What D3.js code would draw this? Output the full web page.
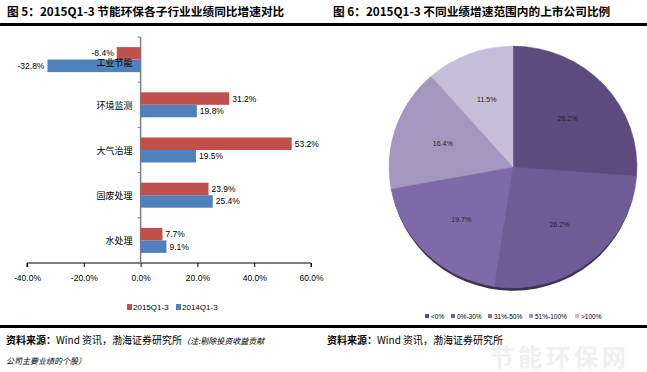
<!DOCTYPE html>
<html>
<head>
<meta charset="utf-8">
<script src="https://cdn.jsdelivr.net/npm/d3@7"></script>
<style>
  body { margin: 0; background: #fff; }
  svg { font-family: "Noto Sans CJK SC", "Noto Sans", sans-serif; }
</style>
</head>
<body>
<svg id="chart" width="647" height="372"></svg>
<script>
// bar chart data
var categories = ["工业节能", "环境监测", "大气治理", "固废处理", "水处理"];
var series2015 = [-8.4, 31.2, 53.2, 23.9, 7.7];
var series2014 = [-32.8, 19.8, 19.5, 25.4, 9.1];
var seriesNames = ["2015Q1-3", "2014Q1-3"];
var xTicks = [-40, -20, 0, 20, 40, 60];

// pie data
var pieLabels = ["<0%", "0%-30%", "31%-50%", "51%-100%", ">100%"];
var pieValues = [26.2, 26.2, 19.7, 16.4, 11.5];
var pieColors = ["#5e4a7d", "#705b96", "#7f69a8", "#a497bf", "#c6bed8"];

var barColors = ["#c0504d", "#4f81bd"];

var svg = d3.select("#chart");

// titles and rules
svg.append("text").attr("x", 7).attr("y", 16)
    .attr("font-size", 11.7).attr("font-weight", "bold")
    .text("图 5：2015Q1-3 节能环保各子行业业绩同比增速对比");
svg.append("text").attr("x", 333).attr("y", 16)
    .attr("font-size", 11.7).attr("font-weight", "bold")
    .text("图 6：2015Q1-3 不同业绩增速范围内的上市公司比例");
svg.append("rect").attr("x", 0).attr("y", 23).attr("width", 647).attr("height", 3).attr("fill", "#000");
svg.append("rect").attr("x", 0).attr("y", 325).attr("width", 647).attr("height", 3).attr("fill", "#000");

// watermark
svg.append("text").attr("x", 490).attr("y", 366)
    .attr("font-size", 24).attr("font-weight", "bold").attr("fill", "#f0f0f0")
    .attr("letter-spacing", 4)
    .text("节能环保网");

// ---- bar chart ----
var x = d3.scaleLinear().domain([-40, 60]).range([27, 311]);
var y = d3.scaleBand().domain(categories).range([37, 263]);

var g = svg.append("g");

var xAxis = d3.axisBottom(x).tickValues(xTicks)
    .tickFormat(function(d) { return d.toFixed(1) + "%"; })
    .tickSize(4);
var ax = g.append("g").attr("transform", "translate(0,263)").call(xAxis);
ax.select(".domain").attr("stroke", "#000").attr("d", "M" + x(-40) + ",4V0H" + x(60) + "V4");
ax.selectAll("text").attr("font-size", 8.5).attr("dy", 11).attr("font-family", "'Liberation Sans', sans-serif");

// y axis line at zero
g.append("line").attr("x1", x(0)).attr("x2", x(0)).attr("y1", 37).attr("y2", 263)
    .attr("stroke", "#808080").attr("stroke-width", 1.5);
g.selectAll(".ytick").data(d3.range(categories.length + 1)).enter().append("line")
    .attr("x1", x(0) - 3).attr("x2", x(0))
    .attr("y1", function(i) { return 37 + i * y.step(); })
    .attr("y2", function(i) { return 37 + i * y.step(); })
    .attr("stroke", "#808080");

var barH = 12.5;
[series2015, series2014].forEach(function(vals, s) {
    g.selectAll(".bar" + s).data(vals).enter().append("rect")
        .attr("x", function(d) { return x(Math.min(0, d)); })
        .attr("width", function(d) { return Math.abs(x(d) - x(0)); })
        .attr("y", function(d, i) { return y(categories[i]) + y.step() / 2 - barH + s * barH; })
        .attr("height", barH)
        .attr("fill", barColors[s]);
    g.selectAll(".lab" + s).data(vals).enter().append("text")
        .attr("x", function(d) { return d < 0 ? x(d) - 3 : x(d) + 3; })
        .attr("y", function(d, i) { return y(categories[i]) + y.step() / 2 - barH / 2 + s * barH + 3; })
        .attr("text-anchor", function(d) { return d < 0 ? "end" : "start"; })
        .attr("font-size", 8.5)
        .attr("font-family", "'Liberation Sans', sans-serif")
        .text(function(d) { return d.toFixed(1) + "%"; });
});

g.selectAll(".cat").data(categories).enter().append("text")
    .attr("x", x(0) - 8)
    .attr("y", function(d, i) { return y(d) + y.step() / 2 + (i === 0 ? 6 : 4); })
    .attr("text-anchor", "end")
    .attr("font-size", 9)
    .text(function(d) { return d; });

// bar legend
var lg = g.append("g").attr("transform", "translate(127,310)");
seriesNames.forEach(function(n, i) {
    var off = i * 49;
    lg.append("rect").attr("x", off).attr("y", -6).attr("width", 5).attr("height", 6).attr("fill", barColors[i]);
    lg.append("text").attr("x", off + 6).attr("y", 0)
        .attr("font-size", 8).attr("font-family", "'Liberation Sans', sans-serif").text(n);
});

// ---- pie chart ----
var cx = 513, cy = 167, r = 124;
var pie = d3.pie().sort(null).value(function(d) { return d; });
var arc = d3.arc().innerRadius(0).outerRadius(r);
var labelArc = d3.arc().innerRadius(r * 0.6).outerRadius(r * 0.6);
var arcs = pie(pieValues);

var pg = svg.append("g").attr("transform", "translate(" + cx + "," + cy + ") scale(1,0.975)");
pg.append("ellipse").attr("cx", 0).attr("cy", 3).attr("rx", r - 1).attr("ry", r).attr("fill", "#3e2f55");
pg.selectAll(".slice").data(arcs).enter().append("path")
    .attr("d", arc)
    .attr("fill", function(d, i) { return pieColors[i]; })
    .attr("stroke", function(d, i) { return pieColors[i]; })
    .attr("stroke-width", 0.5);
pg.selectAll(".plab").data(arcs).enter().append("text")
    .attr("transform", function(d) { var c = labelArc.centroid(d); return "translate(" + c[0] + "," + (c[1] + 3) + ")"; })
    .attr("text-anchor", "middle")
    .attr("font-size", 7)
    .attr("fill", "#222")
    .attr("font-family", "'Liberation Sans', sans-serif")
    .text(function(d) { return d.data.toFixed(1) + "%"; });

// pie legend
var plg = svg.append("g").attr("transform", "translate(425,319)");
var offs = [0, 26, 63, 104, 150];
pieLabels.forEach(function(n, i) {
    plg.append("rect").attr("x", offs[i]).attr("y", -5).attr("width", 4).attr("height", 4).attr("fill", pieColors[i]);
    plg.append("text").attr("x", offs[i] + 6).attr("y", 0)
        .attr("font-size", 6.5).attr("font-family", "'Liberation Sans', sans-serif").text(n);
});

// sources
var src = svg.append("text").attr("x", 6).attr("y", 344).attr("font-size", 10);
src.append("tspan").attr("font-weight", "bold").text("资料来源：");
src.append("tspan").text("Wind 资讯，渤海证券研究所");
src.append("tspan").attr("font-size", 8).attr("font-style", "italic").text("（注:剔除投资收益贡献");
svg.append("text").attr("x", 6).attr("y", 364).attr("font-size", 8).attr("font-style", "italic")
    .text("公司主要业绩的个股）");
var src2 = svg.append("text").attr("x", 327).attr("y", 344).attr("font-size", 10);
src2.append("tspan").attr("font-weight", "bold").text("资料来源：");
src2.append("tspan").text("Wind 资讯，渤海证券研究所");
</script>
</body>
</html>
